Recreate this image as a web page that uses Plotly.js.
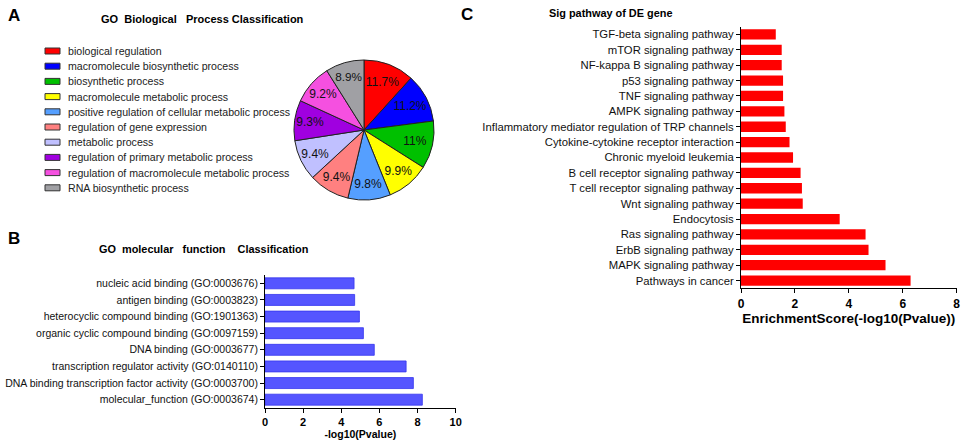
<!DOCTYPE html>
<html>
<head>
<meta charset="utf-8">
<script src="https://cdn.plot.ly/plotly-3.0.1.min.js"></script>
<style>html,body{margin:0;padding:0;background:#fff;}#chart{width:963px;height:442px;}</style>
</head>
<body>
<div id="chart"></div>
<script>
// ---- Panel A: GO Biological Process Classification (pie) ----
const bpLabels = [
  "biological regulation",
  "macromolecule biosynthetic process",
  "biosynthetic process",
  "macromolecule metabolic process",
  "positive regulation of cellular metabolic process",
  "regulation of gene expression",
  "metabolic process",
  "regulation of primary metabolic process",
  "regulation of macromolecule metabolic process",
  "RNA biosynthetic process"
];
const bpPercents = [11.7, 11.2, 11, 9.9, 9.8, 9.4, 9.4, 9.3, 9.2, 8.9];
const bpColors = ["#FF0000", "#0000FF", "#00C000", "#FFFF00", "#559FFF",
                  "#FF8080", "#C0C0FF", "#A000E0", "#F550E0", "#A0A0A4"];

// ---- Panel B: GO molecular function Classification ----
const mfTerms = [
  "nucleic acid binding (GO:0003676)",
  "antigen binding (GO:0003823)",
  "heterocyclic compound binding (GO:1901363)",
  "organic cyclic compound binding (GO:0097159)",
  "DNA binding (GO:0003677)",
  "transcription regulator activity (GO:0140110)",
  "DNA binding transcription factor activity (GO:0003700)",
  "molecular_function (GO:0003674)"
];
const mfScores = [4.67, 4.70, 4.95, 5.16, 5.73, 7.40, 7.78, 8.25];

// ---- Panel C: Sig pathway of DE gene ----
const pathways = [
  "TGF-beta signaling pathway",
  "mTOR signaling pathway",
  "NF-kappa B signaling pathway",
  "p53 signaling pathway",
  "TNF signaling pathway",
  "AMPK signaling pathway",
  "Inflammatory mediator regulation of TRP channels",
  "Cytokine-cytokine receptor interaction",
  "Chronic myeloid leukemia",
  "B cell receptor signaling pathway",
  "T cell receptor signaling pathway",
  "Wnt signaling pathway",
  "Endocytosis",
  "Ras signaling pathway",
  "ErbB signaling pathway",
  "MAPK signaling pathway",
  "Pathways in cancer"
];
const pathwayScores = [1.29, 1.51, 1.51, 1.56, 1.56, 1.61, 1.66, 1.80, 1.93,
                       2.21, 2.26, 2.29, 3.66, 4.62, 4.73, 5.36, 6.29];

const W = 963, H = 442;
const FONT = "Arial, 'Liberation Sans', sans-serif";
const px = x => x / W;
const py = y => 1 - y / H;
const NB = "\u00A0";

const traces = [
  {
    type: "pie",
    labels: bpLabels,
    values: bpPercents,
    marker: {colors: bpColors, line: {color: "#222", width: 1}},
    sort: false,
    direction: "clockwise",
    rotation: 0,
    texttemplate: "%{value}%",
    textposition: "inside",
    insidetextorientation: "horizontal",
    textfont: {family: FONT, size: 12, color: "#111"},
    hoverinfo: "none",
    showlegend: false,
    domain: {x: [px(294), px(434)], y: [py(200), py(60)]}
  },
  {
    type: "bar",
    orientation: "h",
    x: mfScores,
    y: mfTerms,
    width: 0.66,
    marker: {color: "#5555FF", line: {color: "#3535EE", width: 0.8}},
    xaxis: "x",
    yaxis: "y",
    hoverinfo: "none",
    showlegend: false
  },
  {
    type: "bar",
    orientation: "h",
    x: pathwayScores,
    y: pathways,
    width: 0.67,
    marker: {color: "#FF0000", line: {width: 0}},
    xaxis: "x2",
    yaxis: "y2",
    hoverinfo: "none",
    showlegend: false
  }
];

// Legend for the pie (drawn as shapes + annotations for compact spacing)
const shapes = [];
const annotations = [];
bpLabels.forEach((lab, i) => {
  const yc = 51 + 15.2 * i;
  shapes.push({
    type: "rect", xref: "paper", yref: "paper",
    x0: px(45), x1: px(60), y0: py(yc + 3), y1: py(yc - 3),
    fillcolor: bpColors[i], line: {color: "#333", width: 1}
  });
  annotations.push({
    xref: "paper", yref: "paper", x: px(66), y: py(yc),
    xanchor: "left", yanchor: "middle", showarrow: false,
    text: lab, font: {family: FONT, size: 10.6, color: "#222"}
  });
});

function label(text, x, y, size, anchor) {
  annotations.push({
    xref: "paper", yref: "paper", x: px(x), y: py(y),
    xanchor: anchor || "center", yanchor: "middle", showarrow: false,
    text: text, font: {family: FONT, size: size, color: "#000", weight: "bold"}
  });
}
label("A", 14, 16, 17);
label("B", 14, 238, 17);
label("C", 467, 15, 17);
label("GO" + NB + NB + "Biological" + NB + NB + NB + "Process Classification", 202, 19, 11);
label("GO" + NB + NB + "molecular" + NB + NB + NB + "function" + NB + NB + NB + NB + "Classification", 203, 249, 10.9);
label("Sig pathway of DE gene", 547, 13, 10.9, "left");

const axisCommon = {
  showline: true, linecolor: "#000", linewidth: 1,
  ticks: "outside", ticklen: 4, tickcolor: "#000", tickwidth: 1,
  showgrid: false, zeroline: false, fixedrange: true
};

const layout = {
  width: W, height: H,
  margin: {l: 0, r: 0, t: 0, b: 0},
  paper_bgcolor: "#fff", plot_bgcolor: "#fff",
  font: {family: FONT, color: "#000"},
  showlegend: false,
  bargap: 0.3,
  xaxis: Object.assign({}, axisCommon, {
    domain: [px(265), px(455.7)],
    anchor: "y",
    range: [0, 10], dtick: 2, tick0: 0,
    tickfont: {family: FONT, size: 11, weight: "bold"},
    title: {text: "-log10(Pvalue)", font: {family: FONT, size: 10.5, weight: "bold"}, standoff: 3}
  }),
  yaxis: Object.assign({}, axisCommon, {
    domain: [py(408), py(275)],
    anchor: "x",
    type: "category",
    categoryorder: "array", categoryarray: mfTerms,
    range: [7.5, -0.5],
    tickfont: {family: FONT, size: 10.5, color: "#111"}
  }),
  xaxis2: Object.assign({}, axisCommon, {
    domain: [px(741), px(956.7)],
    anchor: "y2",
    range: [0, 8], dtick: 2, tick0: 0,
    tickfont: {family: FONT, size: 12, weight: "bold"},
    title: {text: "EnrichmentScore(-log10(Pvalue))", font: {family: FONT, size: 13.5, weight: "bold"}, standoff: 3}
  }),
  yaxis2: Object.assign({}, axisCommon, {
    domain: [py(288.3), py(26.7)],
    anchor: "x2",
    type: "category",
    categoryorder: "array", categoryarray: pathways,
    range: [16.5, -0.5],
    tickfont: {family: FONT, size: 11.3, color: "#111"}
  }),
  shapes: shapes,
  annotations: annotations
};

Plotly.newPlot("chart", traces, layout, {displayModeBar: false, staticPlot: true});
</script>
</body>
</html>
